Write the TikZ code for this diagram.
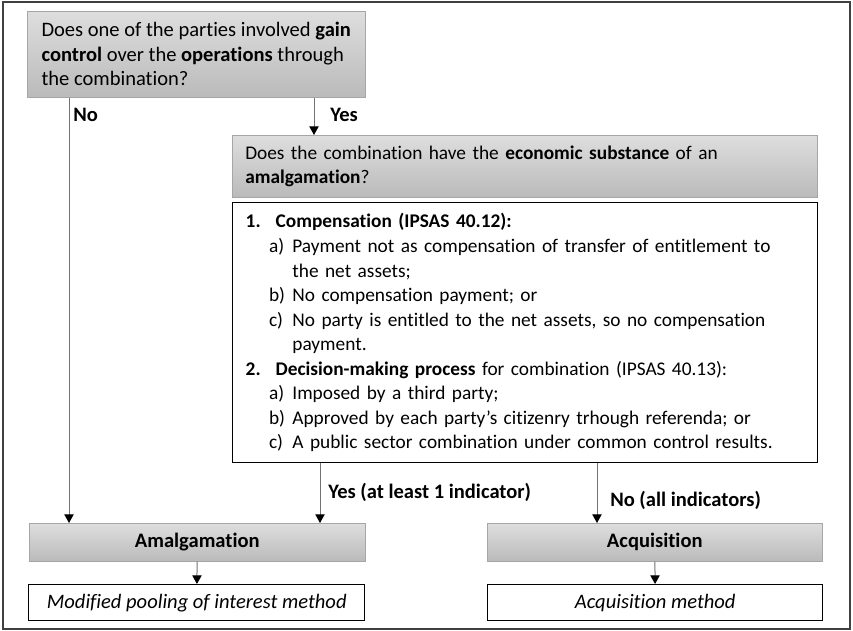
\documentclass[tikz,border=0pt]{standalone}
\usepackage{fontspec}
\setmainfont{Carlito}[Ligatures=NoCommon]
\usetikzlibrary{arrows.meta}

\newcommand{\numline}[2]{\makebox[22.5pt][l]{\textbf{#1}}#2}
\newcommand{\subline}[2]{\hspace*{17.5pt}\makebox[17.5pt][l]{#1}#2}
\newcommand{\contline}[1]{\hspace*{35pt}#1}

\begin{document}
\begin{tikzpicture}[x=0.75pt,y=-0.75pt,
	font=\fontsize{14.5}{18.4}\selectfont,
	question/.style={draw=black!35, top color=black!13, bottom color=black!27, anchor=north west,
		align=left, inner xsep=9.75pt, inner ysep=0pt},
	result/.style={draw=black!35, top color=black!13, bottom color=black!27, anchor=north west,
		align=center, font=\fontsize{15.4}{18.4}\selectfont\bfseries, inner sep=0pt},
	method/.style={draw=black, line width=1.1pt, fill=white, anchor=north west,
		align=center, font=\fontsize{15.4}{18.4}\selectfont\itshape, inner sep=0pt},
	flow/.style={draw=black!55, line width=0.75pt, -{Triangle[width=7pt,length=6.5pt,color=black]}},
	lbl/.style={anchor=west, font=\fontsize{15.4}{18.4}\selectfont\bfseries, inner sep=0pt}]
	\useasboundingbox (0,0) rectangle (853,631);
	\draw[black!75, line width=1.1pt] (3,2) rectangle (850,629);

	\node[question, inner xsep=0pt, font=\fontsize{15.4}{18.4}\selectfont,
		minimum width=338*0.75pt, minimum height=86*0.75pt] (control) at (27,11)
		{Does one of the parties involved \textbf{gain}\\ \textbf{control} over the \textbf{operations} through\\ the combination?};
	\node[question, minimum width=585*0.75pt, minimum height=62*0.75pt, text width=559*0.75pt] (substance) at (232,135)
		{Does the combination have the \textbf{economic substance} of an\\ \textbf{amalgamation}?};
	\node[question, fill=white, top color=white, bottom color=white, draw=black, line width=1.1pt,
		minimum width=585*0.75pt, minimum height=260*0.75pt, text width=559*0.75pt] (indicators) at (232,202)
		{\numline{1.}{\textbf{Compensation (IPSAS 40.12):}}\\
		 \subline{a)}{Payment not as compensation of transfer of entitlement to}\\
		 \contline{the net assets;}\\
		 \subline{b)}{No compensation payment; or}\\
		 \subline{c)}{No party is entitled to the net assets, so no compensation}\\
		 \contline{payment.}\\
		 \numline{2.}{\textbf{Decision-making process} for combination (IPSAS 40.13):}\\
		 \subline{a)}{Imposed by a third party;}\\
		 \subline{b)}{Approved by each party’s citizenry trhough referenda; or}\\
		 \subline{c)}{A public sector combination under common control results.}};

	\node[result, minimum width=336*0.75pt, minimum height=38*0.75pt] (amal) at (29,523) {Amalgamation};
	\node[method, minimum width=336*0.75pt, minimum height=36*0.75pt] (pooling) at (28,584) {Modified pooling of interest method};
	\node[result, minimum width=335*0.75pt, minimum height=38*0.75pt] (acq) at (487,523) {Acquisition};
	\node[method, minimum width=335*0.75pt, minimum height=36*0.75pt] (acqmethod) at (487,584) {Acquisition method};

	\coordinate (xno) at (69,0); \coordinate (xyes) at (314,0);
	\coordinate (xyesone) at (320,0); \coordinate (xnoall) at (597,0);
	\draw[flow] (xno |- control.south) -- (xno |- amal.north);
	\draw[flow] (xyes |- control.south) -- (xyes |- substance.north);
	\draw[flow] (xyesone |- indicators.south) -- (xyesone |- amal.north);
	\draw[flow] (xnoall |- indicators.south) -- (xnoall |- acq.north);
	\draw[flow] (amal) -- (pooling);
	\draw[flow] (acq) -- (acqmethod);

	\node[lbl] (lno) at (73,115) {No};
	\node[lbl] (lyes) at (330,115) {Yes};
	\node[lbl] (lyesone) at (328,492) {Yes (at least 1 indicator)};
	\node[lbl] (lnoall) at (610,500) {No (all indicators)};
\end{tikzpicture}
\end{document}
